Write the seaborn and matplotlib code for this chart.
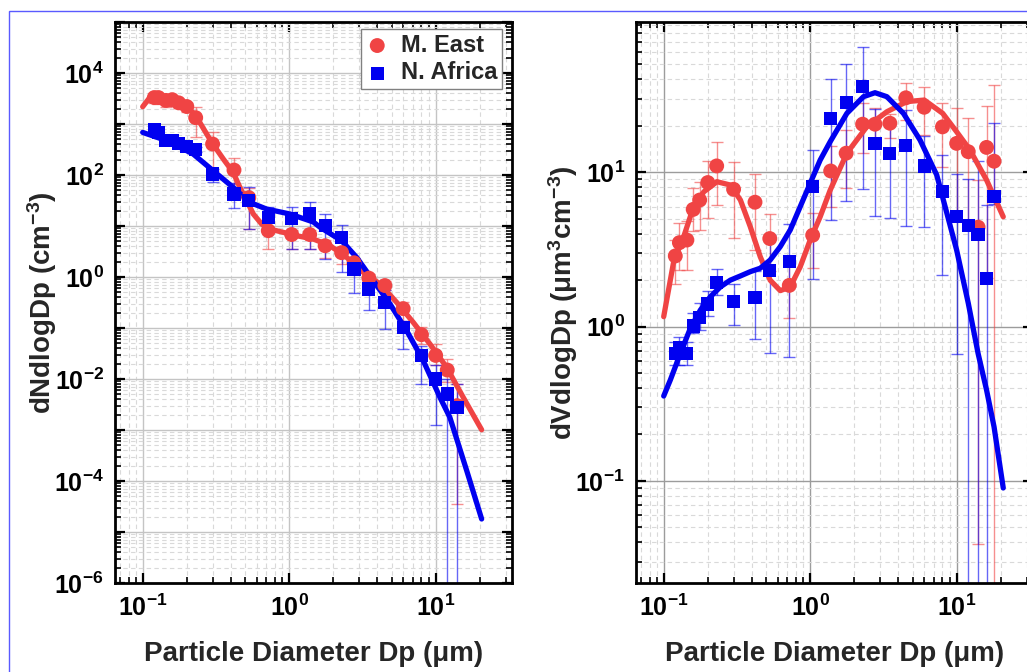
import numpy as np
import pandas as pd
import matplotlib
matplotlib.use("Agg")
import matplotlib.pyplot as plt
import matplotlib.ticker as mticker
from matplotlib.patches import Rectangle
import seaborn as sns

# ---------------- data ----------------
# Number size distribution (left panel)
dp_N = [0.12, 0.128, 0.144, 0.159, 0.176, 0.2, 0.23, 0.3, 0.42, 0.53, 0.72, 1.04,
        1.38, 1.76, 2.28, 2.77, 3.5, 4.5, 6.0, 8.0, 10, 12, 14]
me_N = [3300, 3300, 2900, 3000, 2600, 2200, 1330, 405, 125, 36, 8.1, 6.8,
        6.8, 4.1, 3.0, 1.9, 0.95, 0.68, 0.24, 0.074, 0.029, 0.015, 0.003]
me_N_hi = [3700, 3600, 3400, 3400, 3000, 2600, 2110, 684, 218, 56, 15.9, 8.4,
           8.4, 5.2, 3.8, 2.4, 1.15, 0.85, 0.33, 0.103, 0.049, 0.0247, 0.008]
me_N_lo = [2600, 2500, 2200, 2300, 2100, 1700, 546, 121, 67.5, 8.9, 3.6, 3.5,
           3.5, 2.4, 1.8, 1.29, 0.73, 0.55, 0.14, 0.049, 0.019, 0.0086, 3.5e-5]
na_N = [773, 675, 471, 471, 411, 359, 313, 105, 42.4, 31.3, 14.8, 13.9,
        17.2, 10.1, 5.97, 1.44, 0.58, 0.318, 0.103, 0.0286, 0.01, 0.0051, 0.0028]
na_N_hi = [850, 740, 520, 520, 450, 400, 350, 133, 71, 57, 23.8, 23.8,
           29, 17.2, 10.5, 2.4, 0.93, 0.55, 0.14, 0.045, 0.019, 0.01, 0.008]
na_N_lo = [700, 610, 420, 420, 370, 320, 280, 71.6, 23, 8.7, 9.4, 3.54,
           3.5, 2.25, 1.23, 0.48, 0.23, 0.095, 0.039, 0.008, 0.00126, 1e-9, 1e-9]

fitN_me_x = [0.1, 0.112, 0.125, 0.162, 0.205, 0.234, 0.296, 0.355, 0.415, 0.461, 0.513,
             0.569, 0.649, 0.74, 0.912, 1.125, 1.46, 1.9, 2.47, 3.21, 4.17, 5.42, 7.03,
             9.14, 11.9, 15.4, 20.6]
fitN_me_y = [2180, 3330, 3590, 3090, 2110, 1345, 436, 206, 112, 57, 31.3,
             17.2, 10.9, 8.7, 7.5, 6.45, 5.56, 4.11, 2.42, 1.23, 0.73, 0.318, 0.129,
             0.0485, 0.0169, 0.0044, 0.00101]
fitN_na_x = [0.1, 0.146, 0.221, 0.303, 0.415, 0.539, 0.701, 1.01, 1.46, 1.63, 2.28,
             2.89, 3.75, 4.88, 6.34, 8.23, 10.7, 12.5, 16.3, 20.6]
fitN_na_y = [684, 471, 258, 121, 57, 29, 21.5, 17.2, 12.0, 9.4, 5.15,
             2.42, 0.845, 0.296, 0.0885, 0.0229, 0.00436, 0.00177, 1.59e-4, 1.8e-5]

# Volume size distribution (right panel)
dp_V = [0.12, 0.128, 0.144, 0.159, 0.176, 0.2, 0.23, 0.3, 0.42, 0.53, 0.72, 1.04,
        1.38, 1.76, 2.28, 2.77, 3.5, 4.5, 6.0, 8.0, 10, 12, 14, 16, 18]
me_V = [2.87, 3.50, 3.64, 5.75, 6.61, 8.58, 11.0, 7.76, 6.40, 3.72, 1.85, 3.91,
        10.2, 13.3, 20.5, 20.5, 20.8, 30.4, 26.4, 19.7, 15.4, 13.6, 4.41, 14.5, 11.8]
me_V_hi = [3.64, 4.71, 4.86, 7.87, 8.6, 11.9, 15.8, 11.7, 9.75, 5.37, 2.57, 5.42,
           14.7, 18.8, 28, 26, 24, 38.1, 35.9, 28.2, 26, 22.4, 8.9, 26.9, 37]
me_V_lo = [1.89, 2.33, 2.33, 4.18, 4.2, 5.04, 6.14, 3.77, 3.13, 2.3, 1.13, 2.39,
           5.93, 7.87, 13.3, 16, 16.6, 21.8, 17.5, 10.9, 4.8, 4.5, 0.039, 2.06, 1e-9]
na_V = [0.671, 0.735, 0.671, 1.01, 1.15, 1.40, 1.92, 1.45, 1.54, 2.30, 2.64, 8.07,
        22.4, 28.2, 36.2, 15.4, 13.3, 15.0, 11.0, 7.53, 5.19, 4.52, 3.93, 2.06, 6.98]
na_V_hi = [0.79, 0.86, 0.79, 1.22, 1.42, 1.71, 2.35, 1.88, 2.3, 3.93, 4.62, 13.9,
           40.1, 50.1, 65.2, 25.6, 21.3, 25.4, 17.3, 12.9, 9.8, 9.1, 11.8, 6.1, 21]
na_V_lo = [0.56, 0.56, 0.56, 0.91, 0.95, 1.17, 1.6, 1.03, 0.83, 0.67, 0.64, 2.03,
           4.91, 6.52, 7.8, 5.2, 5.08, 4.5, 4.4, 2.16, 0.66, 1e-9, 1e-9, 1e-9, 6.2]

fitV_me_x = [0.1, 0.117, 0.137, 0.160, 0.188, 0.231, 0.285, 0.334, 0.390, 0.456, 0.533,
             0.625, 0.731, 0.855, 1.0, 1.17, 1.37, 1.78, 2.44, 3.34, 4.56, 6.01, 8.03,
             10.0, 12.3, 16.0, 20.8]
fitV_me_y = [1.16, 2.64, 3.83, 5.99, 7.48, 8.69, 8.27, 6.61, 4.44, 2.84, 2.00,
             1.71, 1.81, 2.44, 3.64, 5.15, 7.67, 13.3, 19.8, 24.7, 28.7, 29.4, 24.1,
             18.3, 14.0, 8.91, 5.15]
fitV_na_x = [0.1, 0.111, 0.130, 0.152, 0.178, 0.208, 0.244, 0.285, 0.334, 0.390, 0.456,
             0.533, 0.625, 0.731, 0.855, 1.0, 1.17, 1.37, 1.78, 2.31, 2.77, 3.34, 4.33,
             5.62, 7.31, 10.0, 12.0, 14.0, 16.0, 18.0, 20.8]
fitV_na_y = [0.355, 0.451, 0.671, 0.975, 1.28, 1.56, 1.81, 2.00, 2.13, 2.27, 2.39,
             2.70, 3.30, 4.23, 5.99, 8.49, 12.0, 15.8, 24.1, 30.9, 32.8, 30.9, 24.1,
             16.2, 9.61, 3.13, 1.42, 0.671, 0.388, 0.224, 0.09]

labels = ["M. East", "N. Africa"]
x_ticks_label = "Particle Diameter Dp (μm)"
yN_label = "dNdlogDp (cm$^{-3}$)"
yV_label = "dVdlogDp (μm$^{3}$cm$^{-3}$)"

# ---------------- style ----------------
sns.set_theme(style="ticks")
plt.rcParams["font.family"] = ["Liberation Sans", "DejaVu Sans"]
plt.rcParams["font.weight"] = "bold"
plt.rcParams["axes.labelweight"] = "bold"
plt.rcParams["mathtext.fontset"] = "custom"
plt.rcParams["mathtext.rm"] = "Liberation Sans:bold"
plt.rcParams["mathtext.it"] = "Liberation Sans:bold"
plt.rcParams["mathtext.bf"] = "Liberation Sans:bold"
plt.rcParams["mathtext.default"] = "bf"

RED = "#F04444"
BLUE = "#0000F0"

W, H = 1027, 672
fig = plt.figure(figsize=(W / 100, H / 100), dpi=100)
fig.patch.set_facecolor("white")

ax1 = fig.add_axes([115 / W, 1 - 583 / H, 397 / W, 561 / H])
ax2 = fig.add_axes([636 / W, 1 - 583 / H, 397 / W, 561 / H])


def log_fmt(only_even=False):
    def f(v, pos):
        e = int(round(np.log10(v)))
        if only_even and e % 2 != 0:
            return ""
        return "10$^{%d}$" % e
    return mticker.FuncFormatter(f)


def style_axes(ax, ylim, major_grid, only_even):
    ax.set_xscale("log")
    ax.set_yscale("log")
    ax.set_xlim(0.0647, 33.2)
    ax.set_ylim(*ylim)
    for a in (ax.xaxis, ax.yaxis):
        a.set_major_locator(mticker.LogLocator(base=10, numticks=30))
        a.set_minor_locator(mticker.LogLocator(base=10, subs=np.arange(2, 10), numticks=30))
    ax.xaxis.set_major_formatter(log_fmt(False))
    ax.yaxis.set_major_formatter(log_fmt(only_even))
    ax.xaxis.set_minor_formatter(mticker.NullFormatter())
    ax.yaxis.set_minor_formatter(mticker.NullFormatter())
    ax.set_axisbelow(True)
    ax.grid(which="major", color=major_grid, lw=1.0, ls="-")
    ax.grid(which="minor", color="#d9d9d9", lw=0.8, ls=(0, (4, 3)))
    ax.tick_params(which="both", direction="in", top=True, right=True, colors="black")
    ax.tick_params(which="major", length=7, width=1.6, labelsize=18, pad=8)
    ax.tick_params(which="minor", length=4, width=1.2)
    for s in ax.spines.values():
        s.set_color("black")
        s.set_linewidth(2.0)
    ax.set_facecolor("white")
    ax.set_xlabel(x_ticks_label, fontsize=20, fontweight="bold", labelpad=15)


def draw(ax, dp, me, me_lo, me_hi, na, na_lo, na_hi, fme_x, fme_y, fna_x, fna_y):
    me = np.array(me); na = np.array(na)
    ax.errorbar(dp, me, yerr=[me - np.array(me_lo), np.array(me_hi) - me], fmt="none",
                ecolor=RED, elinewidth=1.0, capsize=4, capthick=1.0, alpha=0.6, zorder=2)
    ax.errorbar(dp, na, yerr=[na - np.array(na_lo), np.array(na_hi) - na], fmt="none",
                ecolor=BLUE, elinewidth=1.0, capsize=4, capthick=1.0, alpha=0.6, zorder=2)
    sns.lineplot(x=fme_x, y=fme_y, ax=ax, color=RED, lw=3.8, estimator=None, sort=False, zorder=3)
    sns.lineplot(x=fna_x, y=fna_y, ax=ax, color=BLUE, lw=3.8, estimator=None, sort=False, zorder=3)
    sns.scatterplot(x=dp, y=me, ax=ax, marker="o", s=115, color=RED, edgecolor="none",
                    linewidth=0, zorder=4, label=labels[0])
    sns.scatterplot(x=dp, y=na, ax=ax, marker="s", s=90, color=BLUE, edgecolor="none",
                    linewidth=0, zorder=5, label=labels[1])


style_axes(ax1, (1e-6, 1e5), "#c4c4c4", True)
style_axes(ax2, (0.0218, 94.2), "#9c9c9c", False)

draw(ax1, dp_N, me_N, me_N_lo, me_N_hi, na_N, na_N_lo, na_N_hi,
     fitN_me_x, fitN_me_y, fitN_na_x, fitN_na_y)
draw(ax2, dp_V, me_V, me_V_lo, me_V_hi, na_V, na_V_lo, na_V_hi,
     fitV_me_x, fitV_me_y, fitV_na_x, fitV_na_y)

ax1.set_ylabel(yN_label, fontsize=20, fontweight="bold")
ax2.set_ylabel(yV_label, fontsize=20, fontweight="bold")
ax1.yaxis.set_label_coords(-0.142, 0.5)
ax2.yaxis.set_label_coords(-0.14, 0.5)

ax2.get_legend().remove()
leg = ax1.legend(loc="upper right", bbox_to_anchor=(0.975, 0.9875), borderaxespad=0,
                 fontsize=17, frameon=True, fancybox=False, framealpha=1,
                 edgecolor="#808080", handletextpad=0.5, handlelength=1.0,
                 borderpad=0.2, labelspacing=0.2, markerscale=1.0)
leg.get_frame().set_linewidth(1.0)
for t in leg.get_texts():
    t.set_fontweight("bold")

# thin blue frame around the figure panel
fig.patches.append(Rectangle((9 / W, -0.5), 2.0, 0.5 + 1 - 11 / H, transform=fig.transFigure,
                             fill=False, edgecolor="#5a5aff", lw=1.0, zorder=0))

fig.savefig("out.png", dpi=100, facecolor="white")
